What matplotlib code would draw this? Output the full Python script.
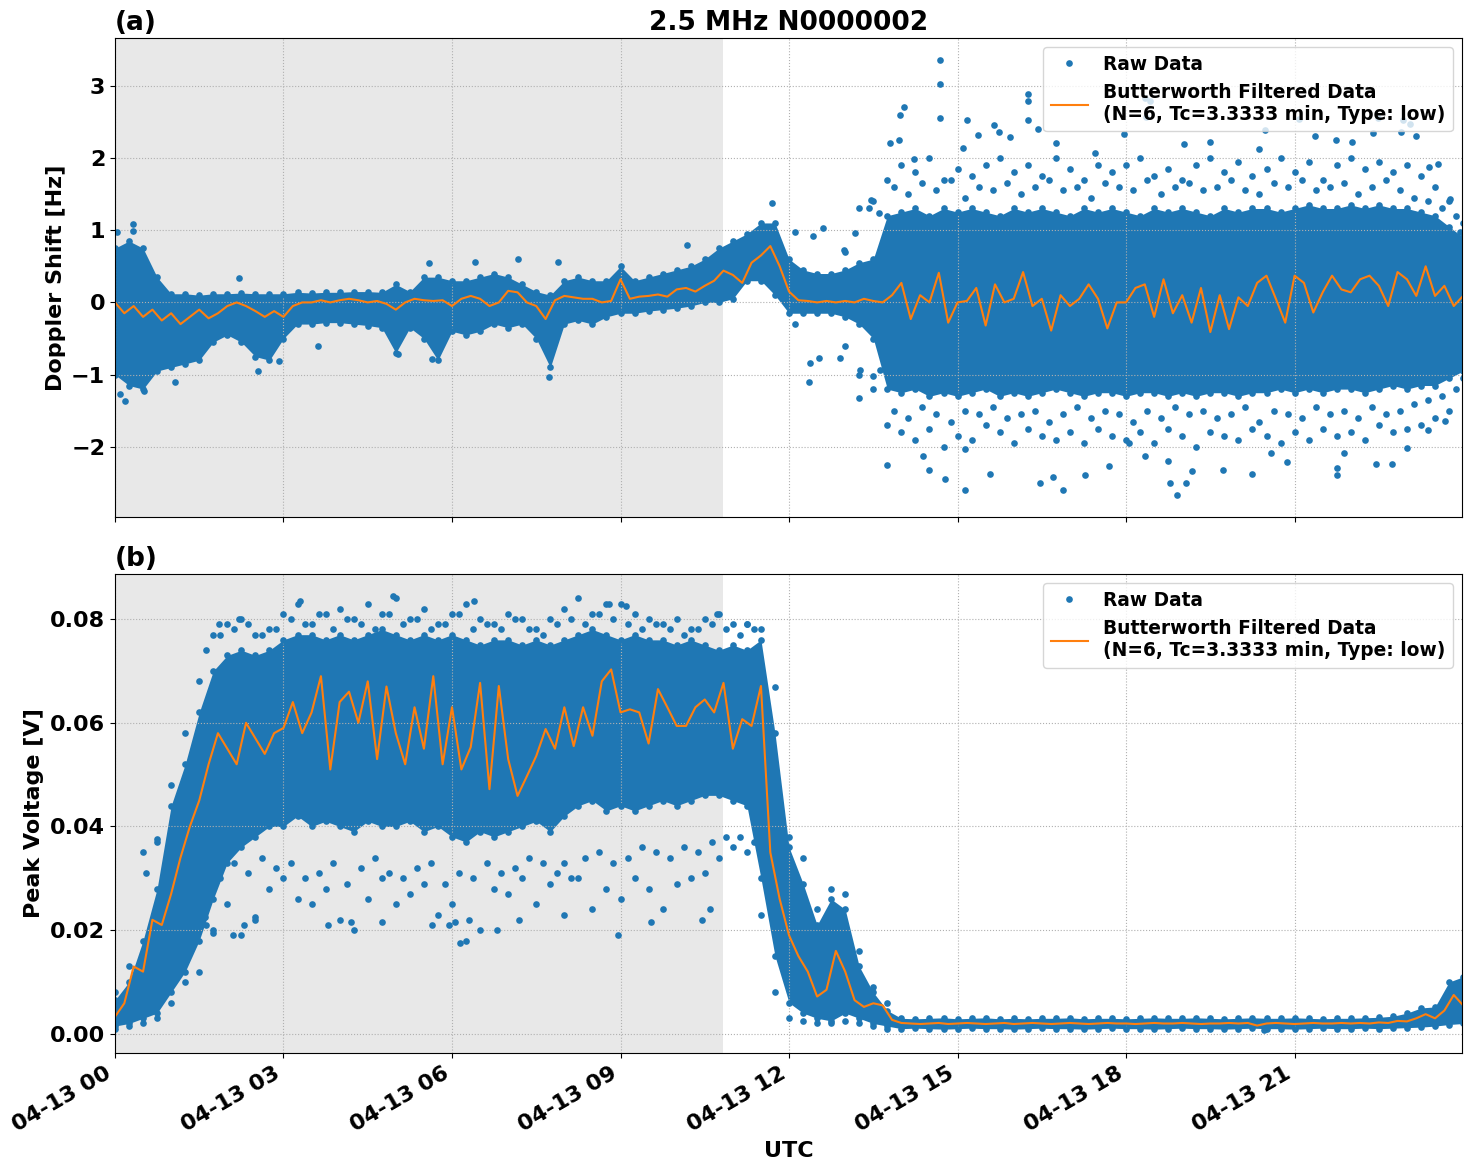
import numpy as np
import matplotlib.pyplot as plt
import matplotlib.dates as mdates

plt.rcParams['font.weight'] = 'bold'
plt.rcParams['axes.labelweight'] = 'bold'
plt.rcParams['axes.titleweight'] = 'bold'

# sample grids, hours after 2024-04-13 00:00 UTC
hours_env = np.arange(97) / 4    # 15 min envelope of the raw scatter
hours_filt = np.arange(145) / 6  # 10 min samples of the filtered curve
night_end = 10.83

# ---- (a) Doppler shift [Hz] ----
dop_hi = [
    0.75, 0.85, 0.75, 0.35,
    0.12, 0.12, 0.10, 0.12,
    0.12, 0.13, 0.12, 0.12,
    0.12, 0.14, 0.13, 0.14,
    0.14, 0.15, 0.15, 0.14,
    0.25, 0.15, 0.35, 0.35,
    0.30, 0.30, 0.35, 0.40,
    0.35, 0.25, 0.15, 0.10,
    0.30, 0.35, 0.30, 0.30,
    0.50, 0.30, 0.35, 0.40,
    0.45, 0.50, 0.60, 0.75,
    0.85, 0.95, 1.10, 1.10,
    0.60, 0.45, 0.40, 0.40,
    0.45, 0.55, 0.60, 1.20,
    1.25, 1.30, 1.20, 1.30,
    1.25, 1.30, 1.25, 1.20,
    1.30, 1.25, 1.30, 1.25,
    1.20, 1.30, 1.25, 1.30,
    1.25, 1.20, 1.30, 1.25,
    1.30, 1.25, 1.20, 1.30,
    1.25, 1.30, 1.30, 1.25,
    1.30, 1.35, 1.30, 1.30,
    1.35, 1.30, 1.35, 1.30,
    1.30, 1.25, 1.20, 1.05,
    0.90]
dop_lo = [
    -1.00, -1.15, -1.20, -0.95,
    -0.90, -0.85, -0.80, -0.55,
    -0.45, -0.55, -0.75, -0.80,
    -0.50, -0.30, -0.30, -0.28,
    -0.28, -0.30, -0.32, -0.35,
    -0.70, -0.35, -0.50, -0.80,
    -0.40, -0.45, -0.40, -0.30,
    -0.35, -0.30, -0.50, -0.90,
    -0.30, -0.25, -0.30, -0.20,
    -0.15, -0.15, -0.12, -0.10,
    -0.08, -0.05, 0.00, 0.00,
    0.05, 0.30, 0.30, 0.10,
    -0.15, -0.15, -0.15, -0.15,
    -0.20, -0.30, -0.50, -1.20,
    -1.25, -1.20, -1.30, -1.25,
    -1.30, -1.25, -1.20, -1.30,
    -1.25, -1.30, -1.25, -1.20,
    -1.25, -1.30, -1.25, -1.25,
    -1.30, -1.25, -1.25, -1.30,
    -1.25, -1.30, -1.25, -1.25,
    -1.30, -1.25, -1.25, -1.20,
    -1.25, -1.20, -1.25, -1.20,
    -1.20, -1.25, -1.20, -1.15,
    -1.20, -1.15, -1.15, -1.05,
    -0.95]
# outer spread of the scatter once the noise starts (13:00 onwards)
dop_spread_hi = [
    0.70, 1.30, 1.40, 1.70,
    1.90, 1.80, 2.00, 1.70,
    1.85, 1.75, 1.90, 2.00,
    1.80, 1.90, 1.75, 2.00,
    1.85, 1.70, 1.90, 1.80,
    1.90, 2.00, 1.75, 1.85,
    1.70, 1.90, 2.00, 1.80,
    1.95, 1.75, 1.85, 2.00,
    1.80, 1.95, 1.70, 1.90,
    2.00, 1.85, 1.95, 1.80,
    1.90, 1.75, 1.60, 1.40,
    1.10]
dop_spread_lo = [
    -0.60, -1.00, -1.20, -1.70,
    -1.80, -1.90, -1.75, -2.00,
    -1.85, -1.90, -1.70, -1.80,
    -1.95, -1.75, -1.85, -1.90,
    -1.80, -1.95, -1.75, -1.85,
    -1.90, -1.80, -1.95, -1.75,
    -1.85, -2.00, -1.80, -1.85,
    -1.90, -1.75, -1.85, -1.95,
    -1.80, -1.90, -1.75, -1.85,
    -1.80, -1.90, -1.70, -1.80,
    -1.75, -1.70, -1.60, -1.50,
    -1.05]
# in-between scatter, 13:52 - 23:52 every 15 min
hours_dop_mid = 13.875 + np.arange(41) / 4
dop_mid_hi = [
    1.60, 1.50, 1.65, 1.55, 1.70, 1.45, 1.60, 1.55, 1.65, 1.50,
    1.60, 1.70, 1.55, 1.60, 1.45, 1.65, 1.60, 1.55, 1.70, 1.50,
    1.60, 1.65, 1.55, 1.60, 1.70, 1.55, 1.50, 1.65, 1.60, 1.70,
    1.55, 1.60, 1.65, 1.50, 1.60, 1.70, 1.55, 1.45, 1.40, 1.30,
    1.20]
dop_mid_lo = [
    -1.50, -1.60, -1.45, -1.55, -1.65, -1.50, -1.55, -1.45, -1.60, -1.55,
    -1.50, -1.65, -1.55, -1.45, -1.60, -1.50, -1.55, -1.65, -1.50, -1.60,
    -1.45, -1.55, -1.50, -1.60, -1.55, -1.45, -1.65, -1.50, -1.55, -1.60,
    -1.45, -1.55, -1.50, -1.60, -1.45, -1.55, -1.50, -1.40, -1.35, -1.30,
    -1.20]
dop_outliers = [
    (0.04, 0.97), (0.32, 1.08), (0.32, 0.99), (0.09, -1.27), (0.18, -1.36),
    (0.52, -1.22), (1.07, -1.10), (2.20, 0.34), (2.55, -0.95), (2.92, -0.81),
    (3.62, -0.60), (5.03, -0.72), (5.59, 0.54), (5.65, -0.79), (6.41, 0.56),
    (7.18, 0.60), (7.72, -1.03), (7.88, 0.56), (10.18, 0.79), (11.69, 1.38),
    (12.10, 0.98), (12.43, 0.92), (12.61, 1.03), (12.97, 0.73), (13.18, 0.96),
    (13.42, 1.31), (13.46, 1.42), (13.61, 1.24), (12.10, -0.30), (12.37, -0.84),
    (12.54, -0.77), (12.90, -0.77), (13.27, -0.93), (13.50, -1.02), (13.62, -0.93),
    (12.36, -1.10), (13.24, -1.32),
    (13.80, 2.21), (13.95, 2.25), (13.97, 2.59), (14.04, 2.71), (14.23, 1.98),
    (14.68, 3.36), (14.68, 3.02), (14.68, 2.55), (15.09, 2.14), (15.17, 2.52),
    (15.37, 2.32), (15.65, 2.46), (15.73, 2.36), (15.94, 2.29), (16.25, 2.89),
    (16.25, 2.79), (16.25, 2.52), (16.43, 2.40), (16.75, 2.21), (17.45, 2.07),
    (17.96, 2.33), (18.34, 2.83), (18.42, 2.79), (18.35, 2.57), (19.04, 2.19),
    (19.49, 2.22), (20.36, 2.13), (20.47, 2.39), (21.07, 2.54), (21.36, 2.31),
    (21.73, 2.25), (22.02, 2.22), (22.39, 2.35), (22.48, 2.55), (22.90, 2.36),
    (22.93, 2.52), (23.05, 2.47), (23.16, 2.30), (23.40, 1.88), (23.55, 1.92),
    (23.76, 1.43), (23.94, 0.97),
    (13.75, -2.25), (14.38, -2.13), (14.50, -2.32), (14.77, -2.45), (15.14, -2.60),
    (15.14, -2.03), (15.57, -2.37), (16.47, -2.50), (16.70, -2.41), (16.87, -2.59),
    (17.26, -2.39), (17.69, -2.26), (18.05, -1.94), (18.34, -2.12), (18.74, -2.20),
    (18.79, -2.50), (18.90, -2.67), (19.07, -2.50), (19.18, -2.33), (19.73, -2.32),
    (20.24, -2.38), (20.58, -2.09), (20.87, -2.21), (21.76, -2.39), (21.76, -2.29),
    (21.88, -2.09), (22.45, -2.24), (22.73, -2.23), (23.00, -2.01), (23.38, -1.76),
    (23.68, -1.64), (23.90, -0.88)]
dop_filt = [
    0.00, -0.15, -0.05, -0.20, -0.10, -0.25,
    -0.15, -0.30, -0.20, -0.10, -0.22, -0.15,
    -0.05, 0.00, -0.05, -0.12, -0.20, -0.12,
    -0.20, -0.05, 0.00, 0.00, 0.03, 0.00,
    0.03, 0.05, 0.03, 0.00, 0.02, -0.02,
    -0.10, 0.00, 0.05, 0.03, 0.02, 0.03,
    -0.05, 0.05, 0.09, 0.05, -0.05, 0.00,
    0.16, 0.14, 0.00, -0.05, -0.23, 0.03,
    0.09, 0.07, 0.05, 0.05, 0.00, 0.02,
    0.32, 0.05, 0.08, 0.09, 0.11, 0.08,
    0.18, 0.20, 0.15, 0.23, 0.30, 0.44,
    0.38, 0.27, 0.55, 0.65, 0.78, 0.50,
    0.15, 0.03, 0.02, 0.00, 0.02, 0.00,
    0.02, 0.00, 0.05, 0.02, 0.00, 0.10,
    0.27, -0.23, 0.10, 0.00, 0.41, -0.28,
    0.00, 0.02, 0.20, -0.32, 0.25, 0.00,
    0.05, 0.42, -0.05, 0.05, -0.39, 0.10,
    -0.05, 0.05, 0.25, 0.05, -0.36, 0.00,
    0.00, 0.20, 0.25, -0.20, 0.32, -0.15,
    0.10, -0.28, 0.20, -0.41, 0.10, -0.37,
    0.07, -0.05, 0.27, 0.37, 0.05, -0.28,
    0.37, 0.27, -0.14, 0.14, 0.37, 0.18,
    0.14, 0.32, 0.37, 0.23, -0.05, 0.42,
    0.32, 0.09, 0.50, 0.09, 0.23, -0.05,
    0.09]

# ---- (b) Peak voltage [V] ----
pv_hi = [
    0.0065, 0.0100, 0.0180, 0.0280,
    0.0440, 0.0520, 0.0620, 0.0700,
    0.0730, 0.0740, 0.0730, 0.0740,
    0.0760, 0.0770, 0.0770, 0.0760,
    0.0770, 0.0760, 0.0770, 0.0780,
    0.0770, 0.0760, 0.0770, 0.0760,
    0.0770, 0.0760, 0.0750, 0.0760,
    0.0760, 0.0750, 0.0760, 0.0750,
    0.0760, 0.0770, 0.0780, 0.0770,
    0.0760, 0.0770, 0.0760, 0.0760,
    0.0750, 0.0760, 0.0750, 0.0740,
    0.0750, 0.0740, 0.0760, 0.0580,
    0.0360, 0.0290, 0.0210, 0.0260,
    0.0240, 0.0130, 0.0080, 0.0045,
    0.0030, 0.0029, 0.0030, 0.0031,
    0.0029, 0.0030, 0.0031, 0.0029,
    0.0030, 0.0029, 0.0030, 0.0030,
    0.0031, 0.0029, 0.0030, 0.0030,
    0.0029, 0.0030, 0.0031, 0.0030,
    0.0030, 0.0031, 0.0030, 0.0029,
    0.0030, 0.0031, 0.0030, 0.0030,
    0.0031, 0.0030, 0.0029, 0.0030,
    0.0030, 0.0031, 0.0032, 0.0034,
    0.0040, 0.0050, 0.0052, 0.0100,
    0.0110]
pv_lo = [
    0.0015, 0.0020, 0.0030, 0.0040,
    0.0080, 0.0120, 0.0180, 0.0260,
    0.0330, 0.0360, 0.0380, 0.0400,
    0.0400, 0.0420, 0.0400, 0.0410,
    0.0400, 0.0390, 0.0410, 0.0400,
    0.0400, 0.0410, 0.0390, 0.0400,
    0.0380, 0.0370, 0.0390, 0.0380,
    0.0390, 0.0400, 0.0410, 0.0390,
    0.0420, 0.0440, 0.0450, 0.0430,
    0.0440, 0.0430, 0.0440, 0.0450,
    0.0440, 0.0450, 0.0460, 0.0460,
    0.0450, 0.0440, 0.0300, 0.0150,
    0.0060, 0.0040, 0.0030, 0.0025,
    0.0040, 0.0030, 0.0020, 0.0015,
    0.0010, 0.0011, 0.0010, 0.0009,
    0.0010, 0.0011, 0.0010, 0.0010,
    0.0009, 0.0010, 0.0011, 0.0010,
    0.0010, 0.0009, 0.0010, 0.0011,
    0.0010, 0.0010, 0.0009, 0.0010,
    0.0011, 0.0010, 0.0010, 0.0009,
    0.0010, 0.0011, 0.0010, 0.0010,
    0.0009, 0.0010, 0.0011, 0.0010,
    0.0010, 0.0011, 0.0010, 0.0011,
    0.0012, 0.0013, 0.0015, 0.0018,
    0.0020]
# outer spread of the scatter, 00:00 - 13:45
pv_spread_hi = [
    0.0080, 0.0130, 0.0350, 0.0370,
    0.0480, 0.0580, 0.0680, 0.0770,
    0.0790, 0.0800, 0.0770, 0.0780,
    0.0810, 0.0830, 0.0790, 0.0810,
    0.0820, 0.0800, 0.0830, 0.0810,
    0.0840, 0.0800, 0.0820, 0.0790,
    0.0810, 0.0830, 0.0800, 0.0790,
    0.0810, 0.0800, 0.0780, 0.0800,
    0.0820, 0.0840, 0.0810, 0.0830,
    0.0830, 0.0810, 0.0800, 0.0790,
    0.0800, 0.0780, 0.0800, 0.0810,
    0.0790, 0.0790, 0.0780, 0.0670,
    0.0380, 0.0340, 0.0240, 0.0280,
    0.0270, 0.0160, 0.0090, 0.0060]
pv_spread_lo = [
    0.0010, 0.0015, 0.0020, 0.0030,
    0.0060, 0.0100, 0.0120, 0.0200,
    0.0250, 0.0190, 0.0220, 0.0280,
    0.0300, 0.0260, 0.0250, 0.0280,
    0.0220, 0.0200, 0.0260, 0.0300,
    0.0250, 0.0270, 0.0290, 0.0230,
    0.0250, 0.0180, 0.0200, 0.0280,
    0.0270, 0.0300, 0.0250, 0.0290,
    0.0330, 0.0300, 0.0240, 0.0280,
    0.0260, 0.0300, 0.0280, 0.0240,
    0.0290, 0.0300, 0.0310, 0.0340,
    0.0360, 0.0350, 0.0230, 0.0080,
    0.0030, 0.0025, 0.0020, 0.0020,
    0.0025, 0.0020, 0.0015, 0.0010]
# in-between scatter, 01:37 - 11:22 every 15 min
hours_pv_mid = 1.625 + np.arange(40) / 4
pv_mid_hi = [
    0.074, 0.077, 0.078, 0.079, 0.077, 0.078, 0.080, 0.079, 0.081, 0.078,
    0.080, 0.079, 0.078, 0.081, 0.079, 0.080, 0.078, 0.079, 0.081, 0.078,
    0.079, 0.078, 0.080, 0.078, 0.077, 0.079, 0.080, 0.079, 0.081, 0.080,
    0.079, 0.078, 0.079, 0.078, 0.077, 0.078, 0.079, 0.078, 0.077, 0.078]
pv_mid_lo = [
    0.021, 0.030, 0.033, 0.031, 0.034, 0.032, 0.033, 0.030, 0.031, 0.033,
    0.029, 0.032, 0.034, 0.031, 0.030, 0.032, 0.033, 0.029, 0.031, 0.030,
    0.033, 0.031, 0.032, 0.034, 0.033, 0.031, 0.030, 0.034, 0.035, 0.033,
    0.034, 0.036, 0.035, 0.034, 0.036, 0.035, 0.037, 0.038, 0.038, 0.037]
pv_outliers = [
    (2.20, 0.0800), (3.30, 0.0835), (4.95, 0.0845), (6.40, 0.0835), (8.80, 0.0830),
    (9.10, 0.0825), (10.72, 0.0810), (11.25, 0.0790), (1.85, 0.0790),
    (1.20, 0.0175), (1.60, 0.0225), (1.75, 0.0195), (2.10, 0.0190), (2.30, 0.0210),
    (2.50, 0.0225), (3.80, 0.0210), (4.20, 0.0215), (4.75, 0.0215), (5.65, 0.0210),
    (5.95, 0.0210), (6.05, 0.0215), (6.15, 0.0175), (6.30, 0.0220), (6.80, 0.0200),
    (7.20, 0.0220), (8.00, 0.0230), (8.95, 0.0190), (9.55, 0.0215), (10.45, 0.0220),
    (10.60, 0.0240), (0.55, 0.0310), (0.75, 0.0375), (20.45, 0.0008)]
pv_filt = [
    0.0033, 0.0059, 0.0130, 0.0120, 0.0220, 0.0210,
    0.0270, 0.0340, 0.0400, 0.0450, 0.0520, 0.0580,
    0.0550, 0.0520, 0.0600, 0.0570, 0.0540, 0.0580,
    0.0590, 0.0640, 0.0580, 0.0620, 0.0690, 0.0510,
    0.0640, 0.0660, 0.0600, 0.0680, 0.0530, 0.0670,
    0.0580, 0.0520, 0.0630, 0.0550, 0.0690, 0.0520,
    0.0630, 0.0510, 0.0553, 0.0677, 0.0472, 0.0671,
    0.0530, 0.0459, 0.0497, 0.0536, 0.0588, 0.0550,
    0.0630, 0.0555, 0.0630, 0.0575, 0.0680, 0.0703,
    0.0620, 0.0626, 0.0620, 0.0560, 0.0665, 0.0630,
    0.0594, 0.0594, 0.0630, 0.0645, 0.0620, 0.0677,
    0.0550, 0.0607, 0.0594, 0.0671, 0.0350, 0.0260,
    0.0190, 0.0150, 0.0120, 0.0072, 0.0085, 0.0160,
    0.0120, 0.0065, 0.0052, 0.0059, 0.0055, 0.0027,
    0.0021, 0.0020, 0.0019, 0.0020, 0.0021, 0.0019,
    0.0020, 0.0021, 0.0020, 0.0019, 0.0020, 0.0021,
    0.0019, 0.0020, 0.0021, 0.0020, 0.0019, 0.0020,
    0.0021, 0.0020, 0.0019, 0.0020, 0.0021, 0.0020,
    0.0020, 0.0019, 0.0020, 0.0021, 0.0020, 0.0020,
    0.0021, 0.0020, 0.0019, 0.0020, 0.0020, 0.0021,
    0.0020, 0.0021, 0.0016, 0.0020, 0.0021, 0.0020,
    0.0019, 0.0020, 0.0021, 0.0020, 0.0020, 0.0021,
    0.0020, 0.0021, 0.0020, 0.0022, 0.0021, 0.0025,
    0.0024, 0.0030, 0.0038, 0.0030, 0.0045, 0.0075,
    0.0055]

blue = '#1f77b4'
orange = '#ff7f0e'
filt_label = 'Butterworth Filtered Data\n(N=6, Tc=3.3333 min, Type: low)'

day0 = mdates.date2num(np.datetime64('2024-04-13T00:00'))


def to_days(h):
    return day0 + np.asarray(h) / 24.0


def draw_panel(ax, hi, lo, sp_hi, sp_lo, sp_start, mid_h, mid_hi, mid_lo, outliers, filt):
    ax.axvspan(day0, to_days(night_end), color='lightgray', alpha=0.5, lw=0)
    t_env = to_days(hours_env)
    t_sp = to_days(hours_env[sp_start:sp_start + len(sp_hi)])
    t_mid = to_days(mid_h)
    out_h, out_v = zip(*outliers)
    ax.fill_between(t_env, lo, hi, color=blue, lw=0)
    xs = np.concatenate([t_env, t_env, t_sp, t_sp, t_mid, t_mid, to_days(out_h)])
    ys = np.concatenate([hi, lo, sp_hi, sp_lo, mid_hi, mid_lo, out_v])
    ax.plot(xs, ys, 'o', ms=4.8, mew=0, color=blue, linestyle='none', label='Raw Data')
    ax.plot(to_days(hours_filt), filt, color=orange, lw=1.5, label=filt_label)
    ax.grid(True, linestyle=':', color='#b0b0b0')
    ax.legend(loc='upper right', prop={'weight': 'bold', 'size': 13.4})
    ax.tick_params(labelsize=16)


fig, (ax1, ax2) = plt.subplots(2, 1, figsize=(14.72, 11.72), dpi=100, sharex=True)

draw_panel(ax1, dop_hi, dop_lo, dop_spread_hi, dop_spread_lo, 52,
           hours_dop_mid, dop_mid_hi, dop_mid_lo, dop_outliers, dop_filt)
draw_panel(ax2, pv_hi, pv_lo, pv_spread_hi, pv_spread_lo, 0,
           hours_pv_mid, pv_mid_hi, pv_mid_lo, pv_outliers, pv_filt)

ax1.set_ylim(-2.97, 3.66)
ax2.set_ylim(-0.0037, 0.0887)
ax1.set_ylabel('Doppler Shift [Hz]', fontsize=16)
ax2.set_ylabel('Peak Voltage [V]', fontsize=16)
ax2.set_xlabel('UTC', fontsize=16)
ax1.set_title('2.5 MHz N0000002', fontsize=19)
ax1.set_title('(a)', loc='left', fontsize=19)
ax2.set_title('(b)', loc='left', fontsize=19)

ax2.set_xlim(day0, day0 + 23.98 / 24)
ax2.xaxis.set_major_locator(mdates.HourLocator(byhour=range(0, 24, 3)))
ax2.xaxis.set_major_formatter(mdates.DateFormatter('%m-%d %H'))
fig.autofmt_xdate()
plt.subplots_adjust(left=0.0781, right=0.9932, top=0.9676, bottom=0.1015, hspace=0.119)

plt.savefig('out.png', dpi=100)
